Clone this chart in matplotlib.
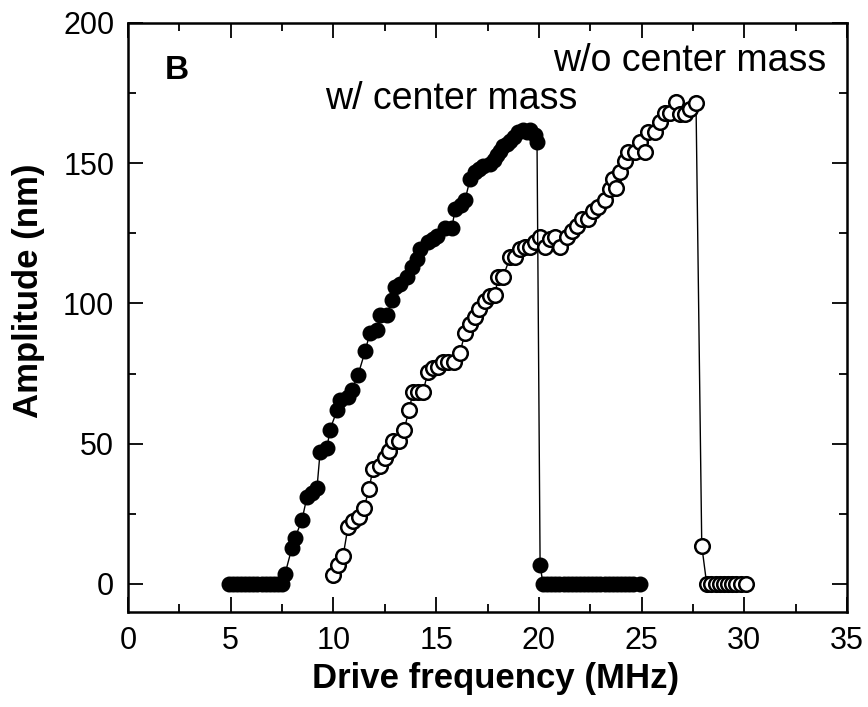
import matplotlib
matplotlib.use("Agg")
import matplotlib.pyplot as plt
from matplotlib.ticker import MultipleLocator

plt.rcParams['font.family'] = ['Liberation Sans', 'DejaVu Sans']

# w/ center mass (filled circles)
freq_with = [4.9, 5.1, 5.3, 5.5, 5.7, 5.9, 6.1, 6.3, 6.5, 6.7, 6.9, 7.1, 7.3, 7.5,
             7.64, 7.98, 8.13, 8.47, 8.71, 8.95, 9.2, 9.35, 9.69, 9.83, 10.18, 10.32,
             10.71, 10.9, 11.2, 11.54, 11.78, 12.12, 12.27, 12.6, 12.85, 13.0, 13.24,
             13.58, 13.83, 14.05, 14.22, 14.61, 14.85, 15.04, 15.43, 15.77, 15.92,
             16.2, 16.41, 16.65, 16.89, 17.1, 17.28, 17.62, 17.8, 17.97, 18.1, 18.26,
             18.45, 18.6, 18.8, 18.99, 19.23, 19.4, 19.57, 19.82, 19.91, 20.06,
             20.2, 20.4, 20.6, 20.8, 21.0, 21.2, 21.4, 21.6, 21.8, 22.0, 22.2, 22.4,
             22.6, 22.8, 23.0, 23.2, 23.4, 23.6, 23.8, 24.0, 24.2, 24.4, 24.6, 24.9]
amp_with = [0, 0, 0, 0, 0, 0, 0, 0, 0, 0, 0, 0, 0, 0,
            3.5, 12.9, 16.4, 22.9, 31, 32.5, 34.3, 47, 48.6, 55, 62, 65.7,
            66.8, 69.3, 74.6, 82.9, 89.6, 90.7, 96, 96, 101.4, 105.7, 106.8,
            109.6, 113, 116, 119.3, 121.8, 123, 124, 127, 127, 133.6,
            135, 137, 144.3, 147, 148, 149, 149.6, 151, 153, 154.5, 156,
            157, 157.9, 159.5, 161, 162, 161, 162, 160, 157.5, 6.8,
            0, 0, 0, 0, 0, 0, 0, 0, 0, 0, 0, 0,
            0, 0, 0, 0, 0, 0, 0, 0, 0, 0, 0, 0]

# w/o center mass (open circles)
freq_without = [9.98, 10.22, 10.47, 10.71, 10.95, 11.25, 11.49, 11.73, 11.93, 12.27,
                12.51, 12.71, 12.9, 13.19, 13.44, 13.68, 13.88, 14.12, 14.36, 14.61,
                14.85, 15.09, 15.34, 15.58, 15.87, 16.16, 16.41, 16.65, 16.9, 17.1,
                17.4, 17.62, 17.87, 18.01, 18.26, 18.6, 18.84, 19.08, 19.33, 19.57,
                19.82, 20.06, 20.3, 20.55, 20.79, 21.03, 21.37, 21.62, 21.86, 22.1,
                22.4, 22.64, 22.88, 23.22, 23.47, 23.6, 23.75, 23.95, 24.2, 24.34,
                24.68, 24.93, 25.17, 25.32, 25.66, 25.9, 26.14, 26.39, 26.68, 26.87,
                27.12, 27.36, 27.65, 27.93,
                28.17, 28.4, 28.6, 28.8, 29.0, 29.2, 29.4, 29.6, 29.85, 30.1]
amp_without = [3.2, 6.8, 10, 20.4, 22.5, 24, 27, 34, 41, 42,
               45, 47.5, 51, 51, 55, 62, 68.6, 68.6, 68.6, 75.7,
               77, 77.5, 79, 79, 79, 82.5, 89.6, 92.5, 95, 98,
               101, 102.5, 103, 109.6, 109.6, 116.4, 116.4, 119.3, 120, 120,
               122, 123.6, 120, 123, 123.6, 120, 123.6, 125.7, 127.5, 130,
               130, 132.9, 134.3, 137, 140.7, 144.5, 141, 147, 150.7, 154,
               154, 157.5, 154, 161, 161, 164.6, 168, 168, 171.8, 167.5,
               167.5, 169.3, 171.4, 13.6,
               0, 0, 0, 0, 0, 0, 0, 0, 0, 0]

fig = plt.figure(figsize=(8.68, 7.07), dpi=100)
ax = fig.add_axes([0.1475, 0.1344, 0.8283, 0.8331])

ax.plot(freq_without, amp_without, '-', color='black', lw=1.0,
        marker='o', markersize=10.5, markerfacecolor='white',
        markeredgecolor='black', markeredgewidth=1.8)
ax.plot(freq_with, amp_with, '-', color='black', lw=1.0,
        marker='o', markersize=10.5, markerfacecolor='black',
        markeredgecolor='black', markeredgewidth=1.0)

ax.set_xlim(0, 35)
ax.set_ylim(-10, 200)
ax.xaxis.set_major_locator(MultipleLocator(5))
ax.xaxis.set_minor_locator(MultipleLocator(2.5))
ax.yaxis.set_major_locator(MultipleLocator(50))
ax.yaxis.set_minor_locator(MultipleLocator(25))
ax.tick_params(which='both', direction='in', top=True, right=True, width=1.3)
ax.tick_params(which='major', length=11, labelsize=22, pad=10)
ax.tick_params(which='minor', length=6)
for sp in ax.spines.values():
    sp.set_linewidth(1.8)

ax.set_xlabel('Drive frequency (MHz)', fontsize=25, fontweight='bold', labelpad=8)
ax.xaxis.set_label_coords(0.511, -0.085)
ax.set_ylabel('Amplitude (nm)', fontsize=25, fontweight='bold', labelpad=10)
ax.yaxis.set_label_coords(-0.115, 0.545)

ax.text(1.8, 183, 'B', fontsize=24, fontweight='bold', va='center')
ax.text(9.6, 173, 'w/ center mass', fontsize=27, va='center')
ax.text(20.7, 186.5, 'w/o center mass', fontsize=27, va='center')

fig.savefig('out.png', dpi=100)
